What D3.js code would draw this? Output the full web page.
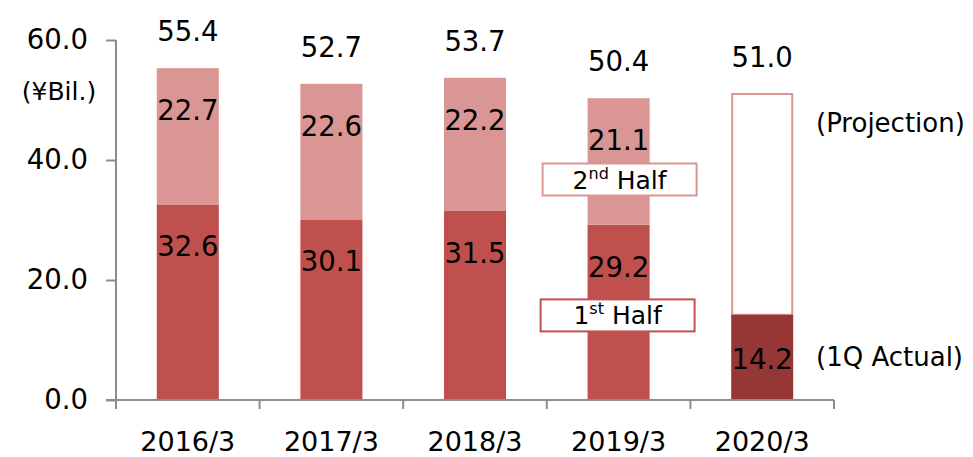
<!DOCTYPE html>
<html>
<head>
<meta charset="utf-8">
<script src="https://cdn.jsdelivr.net/npm/d3@7"></script>
<style>
  body { margin: 0; background: #fff; }
  svg text { font-family: "DejaVu Sans", Verdana, sans-serif; fill: #000; }
</style>
</head>
<body>
<div id="chart"></div>
<script>
// data
var years = ['2016/3', '2017/3', '2018/3', '2019/3', '2020/3'];
var firstHalf = [32.6, 30.1, 31.5, 29.2, null];
var secondHalf = [22.7, 22.6, 22.2, 21.1, null];
var totals = [55.4, 52.7, 53.7, 50.4, 51.0];
var actual1Q = 14.2;
var projection = 51.0;
var yTicks = [0, 20, 40, 60];

var width = 973, height = 457;
var c1 = '#C0504D', c2 = '#D99694', cAct = '#953735', axisColor = '#8c8c8c';
var fs = '27.5px';

var svg = d3.select('#chart')
  .append('svg')
  .attr('width', width)
  .attr('height', height);

var x = d3.scaleBand()
  .domain(years)
  .range([116, 834])
  .paddingInner(0.568)
  .paddingOuter(0.284);

var y = d3.scaleLinear()
  .domain([0, 60])
  .range([400, 40]);

var bw = x.bandwidth();

// stacked bars (past years)
years.forEach(function(yr, i) {
  if (firstHalf[i] === null) return;
  var x0 = x(yr);
  var top1 = y(firstHalf[i]);
  var top2 = y(firstHalf[i] + secondHalf[i]);

  svg.append('rect')
    .attr('x', x0).attr('y', top1)
    .attr('width', bw).attr('height', y(0) - top1)
    .attr('fill', c1);

  svg.append('rect')
    .attr('x', x0).attr('y', top2)
    .attr('width', bw).attr('height', top1 - top2)
    .attr('fill', c2);

  svg.append('text')
    .attr('x', x0 + bw / 2).attr('y', top1 + 52)
    .attr('text-anchor', 'middle')
    .style('font-size', fs)
    .text(firstHalf[i].toFixed(1));

  svg.append('text')
    .attr('x', x0 + bw / 2).attr('y', top2 + 52)
    .attr('text-anchor', 'middle')
    .style('font-size', fs)
    .text(secondHalf[i].toFixed(1));
});

// 2020/3: 1Q actual + projection outline
var xl = x('2020/3');
svg.append('rect')
  .attr('x', xl + 1).attr('y', y(projection))
  .attr('width', bw - 2).attr('height', y(actual1Q) - y(projection))
  .attr('fill', '#fff')
  .attr('stroke', c2)
  .attr('stroke-width', 2);

svg.append('rect')
  .attr('x', xl).attr('y', y(actual1Q))
  .attr('width', bw).attr('height', y(0) - y(actual1Q))
  .attr('fill', cAct);

svg.append('text')
  .attr('x', xl + bw / 2).attr('y', y(actual1Q) + 54)
  .attr('text-anchor', 'middle')
  .style('font-size', fs)
  .text(actual1Q.toFixed(1));

// totals
years.forEach(function(yr, i) {
  svg.append('text')
    .attr('x', x(yr) + bw / 2).attr('y', y(totals[i]) - 27)
    .attr('text-anchor', 'middle')
    .style('font-size', fs)
    .text(totals[i].toFixed(1));
});

// y axis
var yAxis = svg.append('g')
  .attr('transform', 'translate(116,0)')
  .call(d3.axisLeft(y).tickValues(yTicks).tickFormat(d3.format('.1f')).tickSize(10).tickPadding(18));
yAxis.selectAll('text').style('font-size', fs).attr('fill', '#000');
yAxis.selectAll('line').attr('stroke', axisColor).attr('stroke-width', 2);
yAxis.select('.domain').attr('stroke', axisColor).attr('stroke-width', 2).attr('d', 'M0,' + y(60) + 'V' + y(0));

// x axis
var xAxis = svg.append('g')
  .attr('transform', 'translate(0,400)')
  .call(d3.axisBottom(x).tickSize(0).tickPadding(32));
xAxis.selectAll('text').style('font-size', '27px').attr('fill', '#000');
xAxis.select('.domain').attr('stroke', axisColor).attr('stroke-width', 2).attr('d', 'M106,0H834');

// band boundary ticks
var bounds = years.map(function(d) { return x(d) - x.step() * x.paddingInner() / 2; });
bounds[0] = 116;
bounds.push(834);
xAxis.selectAll('.bound')
  .data(bounds)
  .enter()
  .append('line')
  .attr('class', 'bound')
  .attr('x1', function(d) { return d; })
  .attr('x2', function(d) { return d; })
  .attr('y1', 0).attr('y2', 9)
  .attr('stroke', axisColor)
  .attr('stroke-width', 2);

// unit label
svg.append('text')
  .attr('x', 59).attr('y', 91)
  .attr('text-anchor', 'middle')
  .attr('dominant-baseline', 'central')
  .style('font-size', '25px')
  .text('(¥Bil.)');

// side notes
svg.append('text')
  .attr('x', 816).attr('y', y(46.2))
  .attr('dominant-baseline', 'central')
  .style('font-size', '26px')
  .text('(Projection)');

svg.append('text')
  .attr('x', 816).attr('y', y(7.2))
  .attr('dominant-baseline', 'central')
  .style('font-size', '26px')
  .text('(1Q Actual)');

// legend boxes in 2019/3 column
var legend = [
  { label: '2', sup: 'nd', rest: ' Half', color: c2, value: 36.75, dx: 1 },
  { label: '1', sup: 'st', rest: ' Half', color: c1, value: 14.1, dx: -1 }
];
var lx = x('2019/3') + bw / 2;
legend.forEach(function(d) {
  var cy = y(d.value);
  svg.append('rect')
    .attr('x', lx - 77 + d.dx).attr('y', cy - 16)
    .attr('width', 154).attr('height', 32)
    .attr('fill', '#fff')
    .attr('stroke', d.color)
    .attr('stroke-width', 2);
  var t = svg.append('text')
    .attr('x', lx + d.dx).attr('y', cy + 9)
    .attr('text-anchor', 'middle')
    .style('font-size', '25px');
  t.append('tspan').text(d.label);
  t.append('tspan').attr('dy', -10).style('font-size', '16px').text(d.sup);
  t.append('tspan').attr('dy', 10).text(d.rest);
});
</script>
</body>
</html>
